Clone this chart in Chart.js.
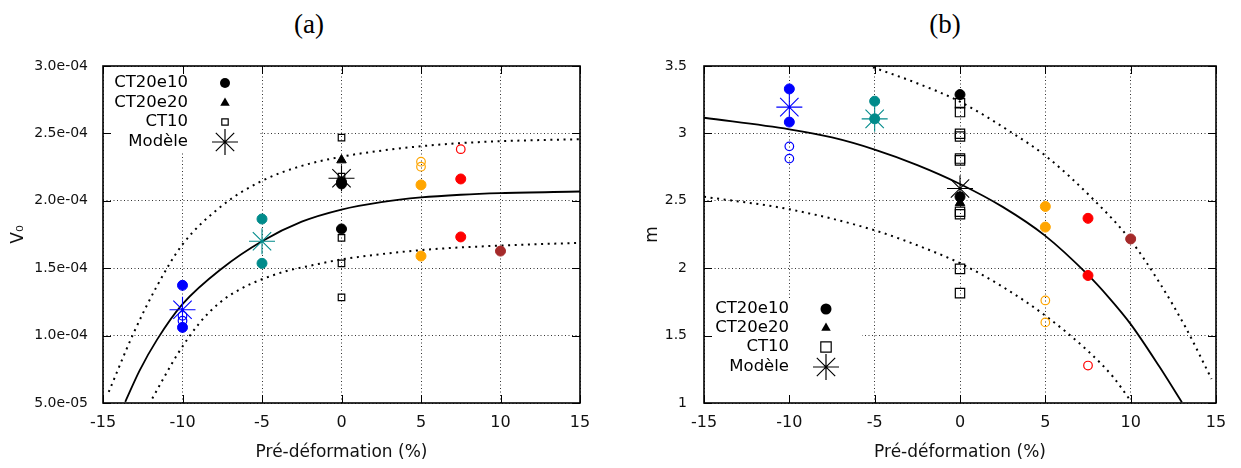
<!DOCTYPE html>
<html>
<head>
<meta charset="utf-8">
<script src="https://cdn.jsdelivr.net/npm/chart.js@4.4.1/dist/chart.umd.min.js"></script>
<style>
  html, body { margin: 0; padding: 0; background: #fff; }
  #wrap { position: relative; width: 1241px; height: 468px; overflow: hidden; }
  canvas { position: absolute; top: 0; }
  #chartA { left: 0; }
  #chartB { left: 620px; }
  .panel-title { position: absolute; top: 6px; width: 100px; text-align: center;
                 font-family: "Liberation Serif", serif; font-size: 27px; line-height: 36px; color: #000; }
</style>
</head>
<body>
<div id="wrap">
  <div class="panel-title" style="left:259px">(a)</div>
  <div class="panel-title" style="left:895px">(b)</div>
  <canvas id="chartA" width="620" height="468"></canvas>
  <canvas id="chartB" width="621" height="468"></canvas>
</div>
<script>
// shared x axis
const xTickValues = [-15, -10, -5, 0, 5, 10, 15];
const xTickLabels = ['-15', '-10', '-5', '0', '5', '10', '15'];
const xTitle = 'Pré-déformation (%)';

const legendLabels = ['CT20e10', 'CT20e20', 'CT10', 'Modèle'];

// ---------- (a) V0 ----------
const v0TickValues = [5e-5, 1e-4, 1.5e-4, 2e-4, 2.5e-4, 3e-4];
const v0TickLabels = ['5.0e-05', '1.0e-04', '1.5e-04', '2.0e-04', '2.5e-04', '3.0e-04'];

const v0M10Filled = [1.373e-4, 1.061e-4];
const v0M10Open = [1.147e-4, 1.110e-4];
const v0M10Model = [1.192e-4];
const v0M5Filled = [1.865e-4, 1.536e-4];
const v0M5Model = [1.700e-4];
const v0P0Filled = [2.125e-4, 2.140e-4, 1.791e-4];
const v0P0Tri = [2.302e-4];
const v0P0Square = [2.469e-4, 2.180e-4, 1.725e-4, 1.536e-4, 1.283e-4];
const v0P0Model = [2.167e-4];
const v0P5Filled = [2.118e-4, 1.590e-4];
const v0P5Open = [2.290e-4, 2.253e-4];
const v0P75Filled = [2.162e-4, 1.732e-4];
const v0P75Open = [2.383e-4];
const v0P10Filled = [1.627e-4];

// model curve and its two dotted bounds
const v0FitX = [-13.6, -12.7, -11.6, -10, -7.5, -5, -2.5, 0, 2.5, 5, 7.5, 10, 15];
const v0FitY = [0.509e-4, 0.74e-4, 0.97e-4, 1.233e-4, 1.50e-4, 1.70e-4, 1.845e-4, 1.935e-4, 1.99e-4, 2.025e-4, 2.045e-4, 2.057e-4, 2.069e-4];
const v0UpX = [-14.64, -13.1, -11.6, -10, -7.5, -5, -2.5, 0, 2.5, 5, 7.5, 10, 15];
const v0UpY = [0.582e-4, 1.012e-4, 1.369e-4, 1.676e-4, 1.965e-4, 2.148e-4, 2.259e-4, 2.327e-4, 2.372e-4, 2.405e-4, 2.428e-4, 2.442e-4, 2.457e-4];
const v0LowX = [-11.9, -10.36, -8.9, -7.64, -6.38, -5, -3.45, -1.78, 0, 5, 10, 15];
const v0LowY = [0.533e-4, 0.853e-4, 1.098e-4, 1.246e-4, 1.344e-4, 1.418e-4, 1.479e-4, 1.523e-4, 1.565e-4, 1.634e-4, 1.668e-4, 1.688e-4];

// ---------- (b) m ----------
const mTickValues = [1, 1.5, 2, 2.5, 3, 3.5];
const mTickLabels = ['1', '1.5', '2', '2.5', '3', '3.5'];

const mM10Filled = [3.330, 3.084];
const mM10Open = [2.904, 2.813];
const mM10Model = [3.195];
const mM5Filled = [3.239, 3.108];
const mM5Model = [3.108];
const mP0Filled = [3.288, 2.530];
const mP0Tri = [2.485];
const mP0Square = [3.224, 3.158, 2.997, 2.977, 2.813, 2.800, 2.419, 2.400, 1.995, 1.815];
const mP0Model = [2.591];
const mP5Filled = [2.458, 2.305];
const mP5Open = [1.761, 1.598];
const mP75Filled = [2.370, 1.946];
const mP75Open = [1.278];
const mP10Filled = [2.217];

const mFitX = [-15, -10, -7.5, -5, -2.5, 0, 2.5, 5, 7.5, 8.75, 10, 11.68, 13];
const mFitY = [3.116, 3.03, 2.97, 2.88, 2.765, 2.625, 2.455, 2.24, 1.95, 1.778, 1.585, 1.27, 1.005];
const mUpX = [-5.1, -2.57, 0, 3.1, 5, 7.8, 10, 11.7, 13.2, 14.74];
const mUpY = [3.49, 3.375, 3.235, 3.0, 2.835, 2.512, 2.207, 1.89, 1.565, 1.178];
const mLowX = [-15, -10, -5, -1.6, 0, 2.5, 5, 7.5, 8.96, 9.92];
const mLowY = [2.53, 2.437, 2.281, 2.125, 2.037, 1.862, 1.648, 1.385, 1.195, 1.03];

// colours
const cBlue = '#0000ff', cTeal = '#008b8b', cBlack = '#000000', cOrange = '#ffa500', cRed = '#ff0000', cBrown = '#a52a2a';
const FONT = '"DejaVu Sans", sans-serif';

function marks(x, ys, kind, color, sqR) {
    const base = { data: ys.map(y => ({ x: x, y: y })), showLine: false, order: 0, borderColor: color };
    if (kind === 'filled') return Object.assign(base, { pointStyle: 'circle', pointRadius: 5, backgroundColor: color, borderWidth: 1 });
    if (kind === 'open') return Object.assign(base, { pointStyle: 'circle', pointRadius: 4.3, backgroundColor: 'rgba(0,0,0,0)', borderWidth: 1.2 });
    if (kind === 'tri') return Object.assign(base, { pointStyle: 'triangle', pointRadius: 5.5, backgroundColor: color, borderWidth: 1 });
    if (kind === 'square') return Object.assign(base, { pointStyle: 'rect', pointRadius: sqR, backgroundColor: 'rgba(0,0,0,0)', borderWidth: 1.2 });
    return Object.assign(base, { pointStyle: 'star', pointRadius: 13, backgroundColor: color, borderWidth: 1.1 });
}

function curve(xs, ys, dotted) {
    return {
        data: xs.map((x, i) => ({ x: x, y: ys[i] })),
        showLine: true, pointRadius: 0, order: 10, fill: false,
        borderColor: '#000', borderWidth: dotted ? 2 : 1.8,
        borderDash: dotted ? [2, 4.6] : [],
        cubicInterpolationMode: 'monotone'
    };
}

function drawSymbol(ctx, kind, x, y, r) {
    ctx.save();
    ctx.strokeStyle = '#000';
    ctx.fillStyle = '#000';
    ctx.lineWidth = 1.2;
    ctx.beginPath();
    if (kind === 'filled') {
        ctx.arc(x, y, r, 0, Math.PI * 2);
        ctx.fill();
    } else if (kind === 'tri') {
        for (let k = 0; k < 3; k++) {
            const a = k * 2 * Math.PI / 3;
            const px = x + Math.sin(a) * r, py = y - Math.cos(a) * r;
            if (k === 0) ctx.moveTo(px, py); else ctx.lineTo(px, py);
        }
        ctx.closePath();
        ctx.fill();
    } else if (kind === 'square') {
        ctx.rect(x - r, y - r, 2 * r, 2 * r);
        ctx.stroke();
    } else {
        for (let k = 0; k < 4; k++) {
            const a = k * Math.PI / 4;
            ctx.moveTo(x - Math.cos(a) * r, y - Math.sin(a) * r);
            ctx.lineTo(x + Math.cos(a) * r, y + Math.sin(a) * r);
        }
        ctx.stroke();
    }
    ctx.restore();
}

// frame, inward ticks and the gnuplot-like key
const framePlugin = {
    id: 'frameKey',
    afterDraw(chart, args, opts) {
        const { ctx, chartArea: a } = chart;
        const xs = chart.scales.x, ys = chart.scales.y;
        const k = opts.key;
        ctx.save();
        ctx.fillStyle = '#fff';
        ctx.fillRect(k.box[0], k.box[1], k.box[2] - k.box[0], k.box[3] - k.box[1]);

        ctx.font = '16.5px ' + FONT;
        ctx.fillStyle = '#000';
        ctx.textAlign = 'right';
        ctx.textBaseline = 'middle';
        const kinds = ['filled', 'tri', 'square', 'star'];
        legendLabels.forEach((lab, i) => {
            ctx.fillText(lab, k.textX, k.rows[i]);
            drawSymbol(ctx, kinds[i], k.symX, k.rows[i], k.sizes[i]);
        });

        ctx.strokeStyle = '#000';
        ctx.lineWidth = 1;
        ctx.beginPath();
        xTickValues.forEach(v => {
            const p = Math.round(xs.getPixelForValue(v)) + 0.5;
            ctx.moveTo(p, a.bottom); ctx.lineTo(p, a.bottom - 8);
            ctx.moveTo(p, a.top); ctx.lineTo(p, a.top + 8);
        });
        opts.yTicks.forEach(v => {
            const p = Math.round(ys.getPixelForValue(v)) + 0.5;
            ctx.moveTo(a.left, p); ctx.lineTo(a.left + 8, p);
            ctx.moveTo(a.right, p); ctx.lineTo(a.right - 8, p);
        });
        ctx.stroke();

        ctx.lineWidth = 1.6;
        ctx.strokeRect(a.left, a.top, a.right - a.left, a.bottom - a.top);
        ctx.restore();
    }
};

function makePanel(id, p) {
    return new Chart(document.getElementById(id), {
        type: 'scatter',
        data: { datasets: p.datasets },
        options: {
            responsive: false,
            animation: false,
            events: [],
            layout: { padding: { top: 66, right: p.padRight, left: 0, bottom: 0 } },
            plugins: {
                legend: { display: false },
                tooltip: { enabled: false },
                frameKey: { key: p.key, yTicks: p.yTickValues }
            },
            scales: {
                x: {
                    type: 'linear', min: -15, max: 15,
                    afterBuildTicks: s => { s.ticks = xTickValues.map(v => ({ value: v })); },
                    afterFit: s => { s.height = 65; },
                    ticks: { callback: (v, i) => xTickLabels[i], color: '#111', font: { family: FONT, size: 16 }, padding: 10, maxRotation: 0, autoSkip: false },
                    grid: { color: 'rgba(0,0,0,0.8)', lineWidth: 1, drawTicks: false },
                    border: { display: false, dash: [1, 2.5] },
                    title: { display: true, text: xTitle, color: '#111', font: { family: FONT, size: 17 }, padding: { top: 6, bottom: 5 } }
                },
                y: {
                    type: 'linear', min: p.yTickValues[0], max: p.yTickValues[p.yTickValues.length - 1],
                    afterBuildTicks: s => { s.ticks = p.yTickValues.map(v => ({ value: v })); },
                    afterFit: s => { s.width = p.yWidth; },
                    ticks: { callback: (v, i) => p.yTickLabels[i], color: '#111', font: { family: FONT, size: 14 }, padding: p.yTickPad, autoSkip: false },
                    grid: { color: 'rgba(0,0,0,0.8)', lineWidth: 1, drawTicks: false },
                    border: { display: false, dash: [1, 2.5] },
                    title: { display: true, text: p.yTitle, color: '#111', font: { family: FONT, size: 17 }, padding: { top: p.yTitlePad, bottom: 0 } }
                }
            }
        },
        plugins: [framePlugin]
    });
}

makePanel('chartA', {
    yTickValues: v0TickValues, yTickLabels: v0TickLabels, yTitle: 'V₀',
    yWidth: 103, padRight: 40, yTickPad: 15, yTitlePad: 8,
    key: { box: [104, 67, 258, 152], textX: 188, symX: 225, rows: [83, 103, 122, 142], sizes: [5, 5.5, 3.2, 13] },
    datasets: [
        marks(-10, v0M10Filled, 'filled', cBlue),
        marks(-10, v0M10Open, 'open', cBlue),
        marks(-10, v0M10Model, 'star', cBlue),
        marks(-5, v0M5Filled, 'filled', cTeal),
        marks(-5, v0M5Model, 'star', cTeal),
        marks(0, v0P0Filled, 'filled', cBlack),
        marks(0, v0P0Tri, 'tri', cBlack),
        marks(0, v0P0Square, 'square', cBlack, 4.6),
        marks(0, v0P0Model, 'star', cBlack),
        marks(5, v0P5Filled, 'filled', cOrange),
        marks(5, v0P5Open, 'open', cOrange),
        marks(7.5, v0P75Filled, 'filled', cRed),
        marks(7.5, v0P75Open, 'open', cRed),
        marks(10, v0P10Filled, 'filled', cBrown),
        curve(v0FitX, v0FitY, false),
        curve(v0UpX, v0UpY, true),
        curve(v0LowX, v0LowY, true)
    ]
});

makePanel('chartB', {
    yTickValues: mTickValues, yTickLabels: mTickLabels, yTitle: 'm',
    yWidth: 84, padRight: 25, yTickPad: 17, yTitlePad: 22,
    key: { box: [85, 298, 242, 402], textX: 169, symX: 206, rows: [309, 328, 347, 367], sizes: [5.5, 5.5, 5.2, 13] },
    datasets: [
        marks(-10, mM10Filled, 'filled', cBlue),
        marks(-10, mM10Open, 'open', cBlue),
        marks(-10, mM10Model, 'star', cBlue),
        marks(-5, mM5Filled, 'filled', cTeal),
        marks(-5, mM5Model, 'star', cTeal),
        marks(0, mP0Filled, 'filled', cBlack),
        marks(0, mP0Tri, 'tri', cBlack),
        marks(0, mP0Square, 'square', cBlack, 6.6),
        marks(0, mP0Model, 'star', cBlack),
        marks(5, mP5Filled, 'filled', cOrange),
        marks(5, mP5Open, 'open', cOrange),
        marks(7.5, mP75Filled, 'filled', cRed),
        marks(7.5, mP75Open, 'open', cRed),
        marks(10, mP10Filled, 'filled', cBrown),
        curve(mFitX, mFitY, false),
        curve(mUpX, mUpY, true),
        curve(mLowX, mLowY, true)
    ]
});
</script>
</body>
</html>
